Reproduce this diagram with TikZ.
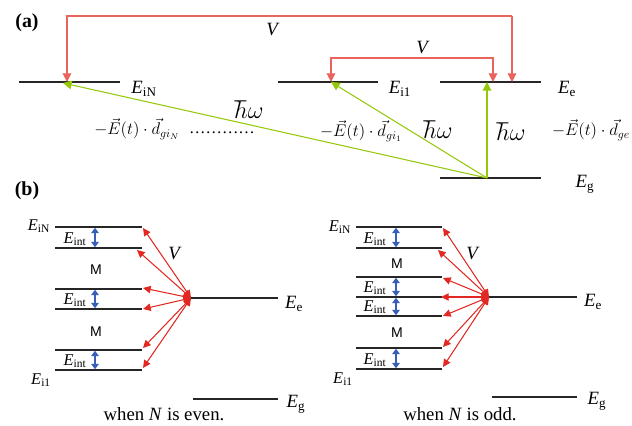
\documentclass[tikz,border=0pt]{standalone}
\usepackage{fontspec}
\setmainfont{Liberation Serif}
\newfontfamily\msans{Liberation Sans}
\usetikzlibrary{arrows.meta}
\definecolor{vred}{RGB}{232,100,92}
\definecolor{fred}{RGB}{226,40,34}
\definecolor{pgreen}{RGB}{150,200,10}
\definecolor{iblue}{RGB}{55,95,185}

\begin{document}
\begin{tikzpicture}[x=0.03cm, y=-0.03cm,
  lev/.style={line width=1pt, black!85},
  vline/.style={-{Triangle[length=2.6mm,width=2.6mm]}, vred, line width=1pt},
  pump/.style={-{Triangle[length=2.6mm,width=2.6mm]}, pgreen, line width=0.9pt},
  coup/.style={{Triangle[length=2.3mm,width=2.2mm]}-{Triangle[length=2.3mm,width=2.2mm]}, fred, line width=0.9pt},
  gap/.style={{Triangle[length=1.6mm,width=2.2mm]}-{Triangle[length=1.6mm,width=2.2mm]}, iblue, line width=1.2pt, shorten <=0.6pt, shorten >=0.6pt},
  lab/.style={inner sep=0pt, font=\fontsize{16}{18}\selectfont},
  hlab/.style={inner sep=0pt, font=\fontsize{20}{22}\selectfont},
  slab/.style={inner sep=0pt, font=\fontsize{14}{16}\selectfont},
  mlab/.style={inner sep=0pt, font=\msans\fontsize{12}{14}\selectfont}]
  \useasboundingbox (0,0) rectangle (632,426);

  % (a)
  \node[lab, font=\bfseries\fontsize{17}{19}\selectfont] (pa) at (27,23) {(a)};
  \draw[lev] (19,82) -- (120,82);
  \draw[lev] (278,82) -- (378,82);
  \draw[lev] (440,82) -- (541,82);
  \draw[lev] (440,178) -- (541,178);
  \node[lab] (EiN) at (144,89) {\textit{E}\textsubscript{iN}};
  \node[lab] (Ei1) at (400,89) {\textit{E}\textsubscript{i1}};
  \node[lab] (Ee) at (567,89) {\textit{E}\textsubscript{e}};
  \node[lab] (Eg) at (585,184) {\textit{E}\textsubscript{g}};
  \coordinate (tN) at (67,82);
  \coordinate (t1) at (331,82);
  \coordinate (te) at (512,82);
  \coordinate (te2) at (493,82);
  \coordinate (tg) at (487,178);
  \coordinate (topL) at (67,16);
  \coordinate (topR) at (512,16);
  \coordinate (midL) at (331,58);
  \coordinate (midR) at (493,58);
  \draw[vline] (topR) -- (te);
  \draw[vline] (topR) -- (topL) -- (tN);
  \draw[vline] (midL) -- (midR) -- (te2);
  \draw[vline] (midR) -- (midL) -- (t1);
  \node[lab] (V1) at (273,30) {\textit{V}};
  \node[lab] (V2) at (423,48) {\textit{V}};
  \draw[pump] (tg) -- (tg |- te);
  \draw[pump] (tg) -- (t1);
  \draw[pump] (tg) -- (63,83);
  \node[hlab] (hw1) at (249,110) {$\hbar\omega$};
  \node[hlab] (hw2) at (438,130) {$\hbar\omega$};
  \node[hlab] (hw3) at (511,132) {$\hbar\omega$};
  \node[slab] (dN) at (137,129) {$-\vec{E}(t)\cdot\vec{d}_{gi_N}$};
  \node[slab] (dots) at (222,133) {\dots\dots\dots\dots};
  \node[slab] (d1) at (361,131) {$-\vec{E}(t)\cdot\vec{d}_{gi_1}$};
  \node[slab] (de) at (591,130) {$-\vec{E}(t)\cdot\vec{d}_{ge}$};

  % (b)
  \node[lab, font=\bfseries\fontsize{17}{19}\selectfont] (pb) at (27,191) {(b)};
  \foreach \y in {227,248,289,309,350,370}
    \draw[lev] (55,\y) -- (142,\y);
  \coordinate (cL) at (191,298);
  \draw[lev] (cL) -- (278,298);
  \draw[lev] (193,399) -- (278,399);
  \foreach \x/\y in {143/228,137/250,143/288,143/309,143/348,143/368}
    \draw[coup] (\x,\y) -- (cL);
  \foreach \ya/\yb in {227/248,289/309,350/370}{
    \draw[gap] (95,\ya) -- (95,\yb);
    \node[slab] at (75,\yb-9) {\textit{E}\textsubscript{int}};
  }
  \node[slab] (LiN) at (39,226) {\textit{E}\textsubscript{iN}};
  \node[slab] (Li1) at (41,380) {\textit{E}\textsubscript{i1}};
  \node[mlab] (LM1) at (96,270) {M};
  \node[mlab] (LM2) at (96,332) {M};
  \node[lab] (LV) at (175,254) {\textit{V}};
  \node[lab] (LEe) at (294,304) {\textit{E}\textsubscript{e}};
  \node[lab] (LEg) at (296,404) {\textit{E}\textsubscript{g}};
  \node[lab] (Lcap) at (164,414) {when \textit{N} is even.};

  \foreach \y in {227,248,277,297,316,348,369}
    \draw[lev] (356,\y) -- (442,\y);
  \coordinate (cR) at (489,297);
  \draw[lev] (cR) -- (577,297);
  \draw[lev] (492,397) -- (577,397);
  \foreach \x/\y in {443/228,438/250,443/278,441/297,443/316,443/347,443/367}
    \draw[coup] (\x,\y) -- (cR);
  \foreach \ya/\yb in {227/248,277/297,297/316,348/369}{
    \draw[gap] (396,\ya) -- (396,\yb);
    \node[slab] at (375,\yb-9) {\textit{E}\textsubscript{int}};
  }
  \node[slab] (RiN) at (340,227) {\textit{E}\textsubscript{iN}};
  \node[slab] (Ri1) at (343,379) {\textit{E}\textsubscript{i1}};
  \node[mlab] (RM1) at (397,264) {M};
  \node[mlab] (RM2) at (397,333) {M};
  \node[lab] (RV) at (473,254) {\textit{V}};
  \node[lab] (REe) at (593,302) {\textit{E}\textsubscript{e}};
  \node[lab] (REg) at (597,401) {\textit{E}\textsubscript{g}};
  \node[lab] (Rcap) at (460,414) {when \textit{N} is odd.};
\end{tikzpicture}
\end{document}
